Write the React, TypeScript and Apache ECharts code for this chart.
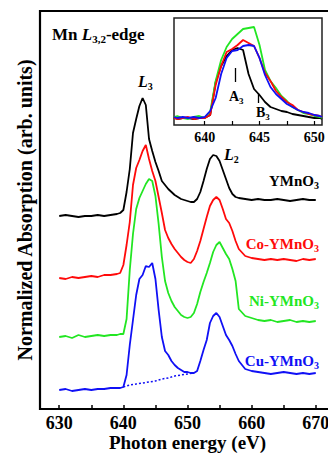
import React, { useEffect, useRef } from "react";
import * as echarts from "echarts";

const FONT = "Liberation Serif";

// Photon energy grid (eV) for main spectra
const energy = [
  630, 631, 632, 633, 634, 635, 636, 637, 638, 639,
  639.5, 640, 640.5, 641, 641.5, 642, 642.5, 643, 643.5, 644, 644.5, 645, 645.5, 646, 646.5,
  647, 647.5, 648, 648.5, 649, 649.5, 650, 650.5, 651, 651.5, 652, 652.5, 653, 653.5, 654,
  654.5, 655, 655.5, 656, 656.5, 657, 657.5, 658,
  659, 660, 661, 662, 663, 664, 665, 666, 667, 668, 669, 670,
];

// Offset spectra (arb. units)
const ymno3 = [
  193, 194, 193, 192, 193, 193, 194, 193, 194, 195,
  196, 199, 217, 240, 276, 290, 303, 311, 304, 270, 258, 247, 238, 228, 224,
  220, 217, 214, 212, 210, 209, 208, 207, 207, 210, 217, 228, 240, 250, 254,
  253, 248, 239, 230, 221, 215, 212, 211,
  210, 209, 210, 209, 209, 210, 209, 208, 209, 210, 209, 209,
];
const coYMnO3 = [
  131, 130, 132, 131, 132, 133, 132, 134, 134, 135,
  136, 144, 164, 187, 224, 241, 249, 258, 264, 250, 238, 228, 212, 196, 179,
  171, 165, 160, 156, 152, 149, 147, 146, 150, 158, 168, 180, 192, 203, 209,
  212, 209, 200, 190, 186, 178, 168, 160,
  153, 151, 150, 149, 150, 149, 150, 149, 148, 150, 149, 150,
];
const niYMnO3 = [
  72, 73, 71, 74, 72, 73, 74, 73, 74, 74,
  75, 75, 90, 139, 175, 200, 211, 218, 225, 230, 228, 213, 185, 152, 128,
  116, 108, 102, 98, 94, 92, 91, 92, 96, 105, 117, 127, 136, 146, 157,
  164, 167, 161, 155, 150, 140, 128, 100,
  93, 91, 89, 88, 89, 87, 88, 89, 87, 88, 87, 88,
];
const cuYMnO3 = [
  19, 20, 18, 19, 20, 19, 20, 20, 21, 21,
  21, 22, 34, 64, 89, 114, 130, 134, 143, 142, 146, 130, 99, 72, 58,
  54, 48, 44, 41, 39, 37, 37, 36, 36, 38, 48, 59, 69, 86, 93,
  96, 92, 83, 74, 69, 63, 55, 48,
  40, 38, 37, 36, 35, 36, 37, 36, 35, 36, 35, 36,
];
// Dotted background under Cu-YMnO3 L3 peak
const bgEnergy = [640, 641, 642, 643, 644, 645, 646, 647, 648, 649, 650, 651];
const cuBackground = [22, 24, 25, 26, 27, 28, 30, 31, 33, 34, 35, 36];

// Inset (zoom on L3 edge)
const insetEnergy = [
  637.2, 637.5, 638, 638.5, 639, 639.5, 640, 640.5, 641, 641.5, 642, 642.5, 643, 643.5,
  644, 644.5, 645, 645.5, 646, 646.5, 647, 647.5, 648, 648.5, 649, 649.5, 650, 650.5, 650.7,
];
const insetY = [7, 6, 7, 7, 6, 7, 7, 10, 43, 59, 69, 75, 77, 75, 51, 36, 30, 23, 18, 16, 14, 13, 11, 10, 9, 8, 7, 7, 6];
const insetNi = [8, 9, 7, 6, 8, 9, 7, 13, 44, 65, 78, 86, 91, 96, 97, 98, 80, 55, 44, 37, 29, 24, 18, 15, 12, 11, 9, 8, 7];
const insetCo = [7, 6, 7, 8, 6, 7, 7, 10, 40, 59, 73, 76, 80, 85, 82, 79, 67, 52, 44, 34, 28, 23, 20, 15, 13, 11, 10, 9, 8];
const insetCu = [8, 7, 8, 7, 8, 7, 8, 14, 27, 51, 67, 74, 75, 79, 80, 79, 67, 50, 38, 31, 26, 21, 18, 15, 13, 12, 10, 9, 8];

const mainTicks = [630, 635, 640, 645, 650, 655, 660, 665, 670];
const mainLabels = [630, 640, 650, 660, 670];
const insetTicks = [640, 642.5, 645, 647.5, 650];
const insetLabels = [640, 645, 650];

const BLACK = "#000000";
const RED = "#ff0a0a";
const GREEN = "#22e622";
const BLUE = "#1010f5";

const pairs = (xs: number[], ys: number[]) => xs.map((x, i) => [x, ys[i]]);

function richFor(size: number, color: string) {
  const base = { fontSize: size, fontWeight: "bold", fontFamily: FONT, fill: color, verticalAlign: "top" };
  return {
    n: base,
    i: { ...base, fontStyle: "italic" },
    s: {
      fontSize: Math.round(size * 0.65),
      fontWeight: "bold",
      fontFamily: FONT,
      fill: color,
      verticalAlign: "top",
      padding: [Math.round(size * 0.47), 0, 0, 0],
    },
  };
}

function label(text: string, x: number, y: number, size: number, color: string, align = "left") {
  return {
    type: "text",
    x,
    y,
    z: 100,
    style: { text, rich: richFor(size, color), fill: color, align, verticalAlign: "middle", fontFamily: FONT },
  };
}

function line(data: number[][], color: string, xAxisIndex: number, extra: any = {}) {
  return {
    type: "line",
    xAxisIndex,
    yAxisIndex: xAxisIndex,
    data,
    symbol: "none",
    smooth: false,
    lineStyle: { color, width: 1.8 },
    itemStyle: { color },
    ...extra,
  };
}

export default function App() {
  const ref = useRef<HTMLDivElement>(null);
  useEffect(() => {
    if (!ref.current) return;
    const chart = echarts.init(ref.current, undefined, { renderer: "svg" });
    const tickStyle = { color: "#000", width: 1.5 };
    chart.setOption({
      animation: false,
      backgroundColor: "#fff",
      textStyle: { fontFamily: FONT },
      grid: [
        {
          left: 40, top: 11, right: -7, bottom: 49, show: true, borderColor: "#000", borderWidth: 2.2,
          outerBoundsMode: "none", containLabel: false,
        },
        {
          left: 174, top: 18, right: 6, bottom: 333, show: true,
          borderColor: "#222", borderWidth: 1.5, backgroundColor: "#fff", z: 5,
          outerBoundsMode: "none", containLabel: false,
        },
      ],
      xAxis: [
        {
          type: "value", gridIndex: 0, min: 627, max: 673,
          axisLine: { show: false },
          axisTick: { show: true, inside: true, length: 4, lineStyle: tickStyle, customValues: mainTicks },
          axisLabel: {
            customValues: mainLabels, fontSize: 18, fontWeight: "bold", fontFamily: FONT, color: "#000", margin: 5,
          },
          splitLine: { show: false },
          name: "Photon energy (eV)",
          nameLocation: "middle",
          nameGap: 24,
          nameMoveOverlap: false,
          nameTextStyle: { fontSize: 19, fontWeight: "bold", fontFamily: FONT, color: "#000" },
        },
        {
          type: "value", gridIndex: 1, min: 637.2, max: 650.7,
          axisLine: { show: false },
          axisTick: { show: true, inside: true, length: 4, lineStyle: { color: "#000", width: 1.2 }, customValues: insetTicks },
          axisLabel: {
            customValues: insetLabels, fontSize: 14, fontWeight: "bold", fontFamily: FONT, color: "#000", margin: 5,
          },
          splitLine: { show: false },
          z: 6,
        },
      ],
      yAxis: [
        {
          type: "value", gridIndex: 0, min: 0, max: 398,
          axisLine: { show: false }, axisTick: { show: false }, axisLabel: { show: false }, splitLine: { show: false },
          name: "Normalized Absorption (arb. units)",
          nameLocation: "middle",
          nameGap: 5,
          nameMoveOverlap: false,
          nameTextStyle: { fontSize: 20, fontWeight: "bold", fontFamily: FONT, color: "#000" },
        },
        {
          type: "value", gridIndex: 1, min: 0, max: 107,
          axisLine: { show: false }, axisTick: { show: false }, axisLabel: { show: false }, splitLine: { show: false },
        },
      ],
      series: [
        line(pairs(energy, ymno3), BLACK, 0, { name: "YMnO3" }),
        line(pairs(energy, coYMnO3), RED, 0, { name: "Co-YMnO3" }),
        line(pairs(energy, niYMnO3), GREEN, 0, { name: "Ni-YMnO3" }),
        line(pairs(energy, cuYMnO3), BLUE, 0, { name: "Cu-YMnO3" }),
        line(pairs(bgEnergy, cuBackground), BLUE, 0, {
          name: "background",
          lineStyle: { color: BLUE, width: 1.5, type: [2, 2] },
        }),
        line(pairs(insetEnergy, insetY), BLACK, 1, {
          name: "inset YMnO3",
          z: 10,
          markLine: {
            silent: true,
            symbol: "none",
            label: { show: false },
            lineStyle: { color: "#000", width: 1.3, type: "solid" },
            data: [
              [{ coord: [642.75, 43] }, { coord: [642.75, 57] }],
              [{ coord: [644.85, 22] }, { coord: [644.85, 32] }],
            ],
          },
        }),
        line(pairs(insetEnergy, insetNi), GREEN, 1, { name: "inset Ni", z: 10 }),
        line(pairs(insetEnergy, insetCo), RED, 1, { name: "inset Co", z: 10 }),
        line(pairs(insetEnergy, insetCu), BLUE, 1, { name: "inset Cu", z: 10 }),
      ],
      graphic: [
        label("{n|Mn }{i|L}{s|3,2}{n|-edge}", 52, 35, 17, "#000"),
        label("{i|L}{s|3}", 138, 82, 16, "#000"),
        label("{i|L}{s|2}", 224, 155, 16, "#000"),
        label("{n|YMnO}{s|3}", 319, 182, 15, BLACK, "right"),
        label("{n|Co-YMnO}{s|3}", 319, 245, 15, RED, "right"),
        label("{n|Ni-YMnO}{s|3}", 319, 302, 15, GREEN, "right"),
        label("{n|Cu-YMnO}{s|3}", 319, 362, 15, BLUE, "right"),
        label("{n|A}{s|3}", 229, 97, 14, "#000"),
        label("{n|B}{s|3}", 256, 113, 14, "#000"),
      ],
    });
    return () => chart.dispose();
  }, []);
  return <div ref={ref} style={{ position: "fixed", left: 0, top: 0, width: 328, height: 458 }} />;
}
